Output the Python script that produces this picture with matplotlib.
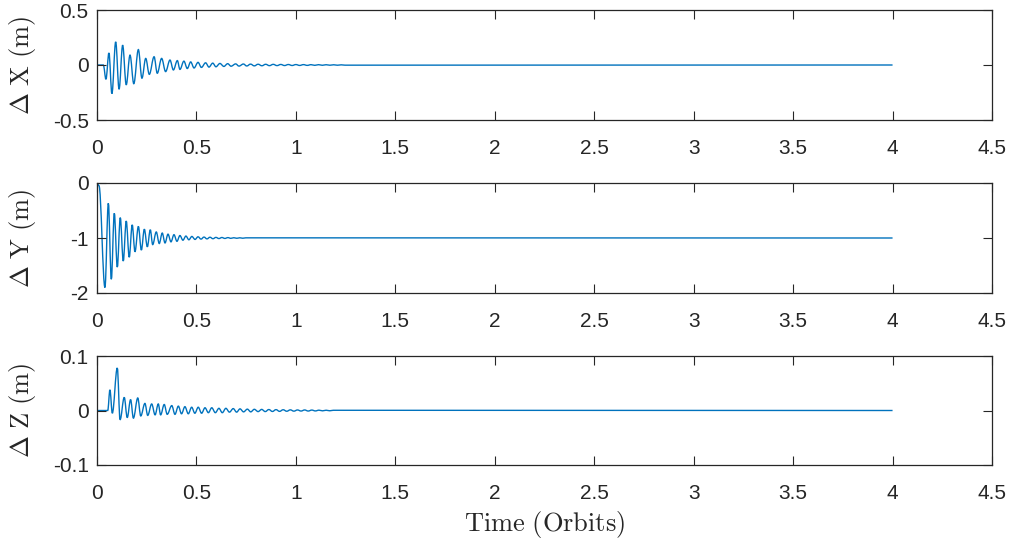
#!/usr/bin/python3
import matplotlib
matplotlib.use('Agg')
import matplotlib.pyplot as plt
from matplotlib.path import Path
from matplotlib.patches import PathPatch

# Values (extrema of each damped oscillation)
# Time in orbits
timeX = [0, 0.032, 0.045, 0.060, 0.075, 0.094, 0.111, 0.129, 0.147, 0.166, 0.185,
         0.208, 0.226, 0.245, 0.263, 0.287, 0.303, 0.325, 0.345, 0.367, 0.384,
         0.404, 0.417, 0.437, 0.454, 0.471, 0.488, 0.508, 0.525, 0.546, 0.563,
         0.582, 0.598, 0.618, 0.638, 0.657, 0.674, 0.697, 0.714, 0.736, 0.753,
         0.772, 0.791, 0.810, 0.829, 0.848, 0.867, 0.886, 0.905, 0.924, 0.943,
         0.962, 0.981, 1.000, 1.019, 1.038, 1.057, 1.076, 1.095, 1.114, 1.133,
         1.152, 1.171, 1.190, 1.209, 1.228, 1.247, 4.0]
deltaX = [0, 0, -0.13, 0.11, -0.26, 0.21, -0.22, 0.18, -0.18, 0.09, -0.17,
          0.14, -0.12, 0.06, -0.085, 0.075, -0.075, 0.06, -0.06, 0.045, -0.045,
          0.04, -0.04, 0.035, -0.032, 0.028, -0.027, 0.024, -0.022, 0.02, -0.019,
          0.017, -0.016, 0.014, -0.013, 0.012, -0.011, 0.010, -0.010, 0.009, -0.009,
          0.008, -0.008, 0.007, -0.007, 0.0065, -0.006, 0.006, -0.0055, 0.005, -0.005,
          0.0045, -0.0045, 0.004, -0.004, 0.0035, -0.0035, 0.003, -0.003, 0.003, -0.0025,
          0.0025, -0.002, 0.002, -0.002, 0.0015, -0.0015, 0]

timeY = [0, 0.010, 0.040, 0.057, 0.072, 0.087, 0.102, 0.117, 0.132, 0.147, 0.162,
         0.177, 0.191, 0.208, 0.223, 0.238, 0.253, 0.268, 0.280, 0.298, 0.313,
         0.328, 0.342, 0.357, 0.372, 0.387, 0.402, 0.417, 0.432, 0.447, 0.462,
         0.477, 0.493, 0.508, 0.523, 0.538, 0.553, 0.568, 0.583, 0.598, 0.613,
         0.628, 0.643, 0.658, 0.673, 0.688, 0.703, 0.718, 0.733, 0.748, 4.0]
deltaY = [0, -0.05, -1.90, -0.37, -1.75, -0.55, -1.53, -0.63, -1.42, -0.69, -1.35,
          -0.76, -1.25, -0.79, -1.22, -0.84, -1.16, -0.85, -1.12, -0.89, -1.10,
          -0.91, -1.09, -0.93, -1.07, -0.94, -1.06, -0.955, -1.04, -0.965, -1.032,
          -0.972, -1.026, -0.978, -1.02, -0.983, -1.016, -0.986, -1.013, -0.989, -1.01,
          -0.991, -1.008, -0.993, -1.006, -0.995, -1.005, -0.996, -1.004, -0.997, -1.0]

timeZ = [0, 0.054, 0.065, 0.077, 0.102, 0.116, 0.137, 0.152, 0.169, 0.183, 0.205,
         0.220, 0.241, 0.255, 0.275, 0.292, 0.308, 0.320, 0.338, 0.353, 0.376,
         0.392, 0.409, 0.425, 0.442, 0.459, 0.476, 0.492, 0.509, 0.526, 0.543,
         0.560, 0.577, 0.595, 0.613, 0.630, 0.648, 0.666, 0.685, 0.702, 0.719,
         0.737, 0.756, 0.773, 0.791, 0.810, 0.828, 0.846, 0.864, 0.882, 0.900,
         0.918, 0.936, 0.954, 0.972, 0.990, 1.008, 1.026, 1.044, 1.062, 1.080,
         1.098, 1.116, 1.134, 1.152, 1.170, 1.188, 4.0]
deltaZ = [0, 0, 0.038, -0.005, 0.078, -0.017, 0.024, -0.013, 0.02, -0.014, 0.023,
          -0.010, 0.013, -0.009, 0.012, -0.008, 0.012, -0.008, 0.011, -0.007, 0.009,
          -0.007, 0.008, -0.006, 0.007, -0.006, 0.006, -0.005, 0.006, -0.005, 0.005,
          -0.004, 0.005, -0.004, 0.004, -0.004, 0.004, -0.003, 0.0035, -0.003, 0.003,
          -0.0025, 0.0025, -0.0025, 0.0022, -0.002, 0.002, -0.002, 0.0018, -0.0018, 0.0016,
          -0.0016, 0.0014, -0.0014, 0.0012, -0.0012, 0.001, -0.001, 0.001, -0.001, 0.0008,
          -0.0008, 0.0006, -0.0006, 0.0005, -0.0005, 0.0004, 0]

xTicks = [0, 0.5, 1, 1.5, 2, 2.5, 3, 3.5, 4, 4.5]
xTickLabels = ['0', '0.5', '1', '1.5', '2', '2.5', '3', '3.5', '4', '4.5']
yTicks = [[-0.5, 0, 0.5], [-2, -1, 0], [-0.1, 0, 0.1]]
yTickLabels = [['-0.5', '0', '0.5'], ['-2', '-1', '0'], ['-0.1', '0', '0.1']]
yLimits = [(-0.5, 0.5), (-2, 0), (-0.1, 0.1)]
yLabels = [r'$\Delta\ \mathrm{X\ (m)}$', r'$\Delta\ \mathrm{Y\ (m)}$', r'$\Delta\ \mathrm{Z\ (m)}$']

LINE_COLOR = '#0072BD'
AXIS_COLOR = '#262626'


def smoothPath(t, v):
    """
    Path through the extrema, each pair joined by a cubic
    with flat tangents so the wiggles look round like the original
    """
    verts = [(t[0], v[0])]
    codes = [Path.MOVETO]
    for k in range(1, len(t)):
        dt = t[k] - t[k - 1]
        verts += [(t[k - 1] + 0.36 * dt, v[k - 1]), (t[k] - 0.36 * dt, v[k]), (t[k], v[k])]
        codes += [Path.CURVE4] * 3
    return Path(verts, codes)


plt.rcParams['font.family'] = ['Liberation Sans', 'DejaVu Sans']
plt.rcParams['mathtext.fontset'] = 'cm'

fig = plt.figure(figsize=(10.14, 5.44), dpi=100)

# axes rectangles in pixel rows (top, bottom)
left = 97 / 1014
width = (992 - 97) / 1014
boxes = [(10, 120), (183, 293), (356, 465)]

series = [(timeX, deltaX), (timeY, deltaY), (timeZ, deltaZ)]

for i, (top, bottom) in enumerate(boxes):
    ax = fig.add_axes([left, 1 - bottom / 544, width, (bottom - top) / 544])
    t, v = series[i]
    ax.add_patch(PathPatch(smoothPath(t, v), fill=False, edgecolor=LINE_COLOR, linewidth=1.0))
    ax.set_xlim(0, 4.5)
    ax.set_ylim(*yLimits[i])
    ax.set_xticks(xTicks)
    ax.set_xticklabels(xTickLabels)
    ax.set_yticks(yTicks[i])
    ax.set_yticklabels(yTickLabels[i])
    ax.tick_params(direction='in', length=6.5, width=0.8, colors=AXIS_COLOR,
                   labelsize=15, top=True, right=True)
    ax.tick_params(axis='x', pad=14)
    ax.tick_params(axis='y', pad=6)
    for spine in ax.spines.values():
        spine.set_color(AXIS_COLOR)
        spine.set_linewidth(0.9)
    ax.set_ylabel(yLabels[i], fontsize=19, color=AXIS_COLOR)
    ax.yaxis.set_label_coords(-0.066, 0.5)
    if i == 2:
        ax.set_xlabel(r'$\mathrm{Time\ (Orbits)}$', fontsize=19, color=AXIS_COLOR)
        ax.xaxis.set_label_coords(0.5, -0.40)

fig.savefig('out.png', dpi=100)
